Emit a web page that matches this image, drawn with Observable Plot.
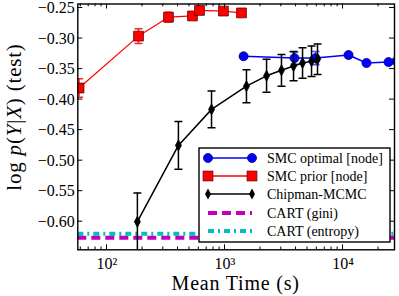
<!DOCTYPE html>
<html><head><meta charset="utf-8">
<script src="https://cdn.jsdelivr.net/npm/d3@7"></script>
<script src="https://cdn.jsdelivr.net/npm/@observablehq/plot@0.6"></script>
<style>body{margin:0;background:#fff} svg text{font-family:"Liberation Serif","Times New Roman",serif !important;}</style>
</head><body><div id="chart"></div>
<script>
// SMC optimal [node]
const optTime = [1437, 3880, 5850, 11140, 15800, 24300, 28400];
const optVal  = [-0.329, -0.332, -0.332, -0.327, -0.340, -0.3385, -0.337];
const optErr  = [0.003, 0.010, 0.011, 0.003, 0.003, 0.003, 0.003];
// SMC prior [node]
const priorTime = [58, 185, 332, 530, 608, 970, 1380];
const priorVal  = [-0.381, -0.296, -0.265, -0.263, -0.254, -0.255, -0.258];
const priorErr  = [0.015, 0.012, 0.008, 0.006, 0.004, 0.004, 0.003];
// Chipman-MCMC
const mcmcTime = [181, 403, 769, 1520, 2250, 3010, 3810, 4540, 5410, 6080];
const mcmcVal  = [-0.600, -0.475, -0.416, -0.378, -0.361, -0.352, -0.345, -0.340, -0.337, -0.334];
const mcmcErr  = [0.047, 0.039, 0.030, 0.027, 0.027, 0.026, 0.024, 0.025, 0.025, 0.025];
// CART baselines
const cartGini = -0.6263;
const cartEntropy = -0.6197;

const yTicks = [-0.60, -0.55, -0.50, -0.45, -0.40, -0.35, -0.30, -0.25];
const xTicks = [100, 1000, 10000];
const xTickLabels = ["10²", "10³", "10⁴"];

const FONT = "Liberation Serif, serif";
const mk = (t, v, e) => t.map((x, i) => ({x, y: v[i], lo: v[i] - e[i], hi: v[i] + e[i]}));
const opt = mk(optTime, optVal, optErr);
const prior = mk(priorTime, priorVal, priorErr);
const mcmc = mk(mcmcTime, mcmcVal, mcmcErr);

const capSym = {draw(c, s){ const r = Math.sqrt(s/Math.PI); c.moveTo(-r,0); c.lineTo(r,0);} };
const sqSym = {draw(c, s){ const r = Math.sqrt(s/Math.PI); c.rect(-r,-r,2*r,2*r);} };
const dmSym = {draw(c, s){ const r = Math.sqrt(s/Math.PI); c.moveTo(0,-r); c.lineTo(0.55*r,0); c.lineTo(0,r); c.lineTo(-0.55*r,0); c.closePath();} };

const series = [
  {d: opt, color: "#0000ff", ecolor: "#4d4dff", sym: "circle", r: 4.5, fill: "#0000ff", edge: "#00007a", lw: 1.5},
  {d: prior, color: "#ff0000", ecolor: "#ff2020", sym: sqSym, r: 4.9, fill: "#ff0000", edge: "#660000", lw: 1.2},
  {d: mcmc, color: "#000000", ecolor: "#000000", sym: dmSym, r: 5.5, fill: "#000000", edge: "#000000", lw: 1.5}
];

const marks = [
  Plot.ruleY([cartEntropy], {stroke: "#00bfbf", strokeWidth: 4, strokeDasharray: "6,4,2,4", clip: true}),
  Plot.ruleY([cartGini], {stroke: "#bf00bf", strokeWidth: 4, strokeDasharray: "9,5", clip: true})
];
for (const s of series) {
  marks.push(Plot.line(s.d, {x: "x", y: "y", stroke: s.color, strokeWidth: s.lw, clip: true}));
  marks.push(Plot.ruleX(s.d, {x: "x", y1: "lo", y2: "hi", stroke: s.ecolor, strokeWidth: 1.5, clip: true}));
  marks.push(Plot.dot(s.d, {x: "x", y: "hi", symbol: capSym, r: 4, stroke: s.ecolor, strokeWidth: 1.5, clip: true}));
  marks.push(Plot.dot(s.d, {x: "x", y: "lo", symbol: capSym, r: 4, stroke: s.ecolor, strokeWidth: 1.5, clip: true}));
  marks.push(Plot.dot(s.d, {x: "x", y: "y", symbol: s.sym, r: s.r, fill: s.fill, stroke: s.edge, strokeWidth: 0.8, clip: true}));
}
marks.push(Plot.axisX(xTicks, {tickSize: 0, tickPadding: 8, tickFormat: d => xTickLabels[xTicks.indexOf(d)], fontSize: 16, fontFamily: FONT, label: null}));
marks.push(Plot.axisY(yTicks, {tickSize: 0, tickPadding: 3, tickFormat: d3.format(".2f"), fontSize: 16, fontFamily: FONT, label: null}));
marks.push(Plot.frame({stroke: "#000", strokeWidth: 1.4}));

const plot = Plot.plot({
  width: 399, height: 296,
  marginLeft: 77.3, marginRight: 5, marginTop: 3.5, marginBottom: 46.7,
  style: {fontFamily: FONT, color: "#000", background: "#fff"},
  x: {type: "log", domain: [56.6, 27300]},
  y: {domain: [-0.646, -0.2434]},
  marks
});
document.getElementById("chart").appendChild(plot);

const svg = d3.select(plot);
const xs = plot.scale("x"), ys = plot.scale("y");
const L = 77.3, R = 394, T = 3.5, B = 249.3;
const g = svg.append("g").attr("stroke", "#000").attr("stroke-width", 1);
for (let e = 1; e <= 4; e++) {
  for (let k = 1; k <= 9; k++) {
    const v = k * Math.pow(10, e);
    const px = xs.apply(v);
    if (px < L + 0.5 || px > R - 0.5) continue;
    const len = k === 1 ? 5 : 2.8;
    g.append("line").attr("x1", px).attr("x2", px).attr("y1", B).attr("y2", B - len);
    g.append("line").attr("x1", px).attr("x2", px).attr("y1", T).attr("y2", T + len);
  }
}
for (const v of yTicks) {
  const py = ys.apply(v);
  g.append("line").attr("x1", L).attr("x2", L + 5).attr("y1", py).attr("y2", py);
  g.append("line").attr("x1", R).attr("x2", R - 5).attr("y1", py).attr("y2", py);
}

svg.append("text").attr("x", (L + R) / 2).attr("y", 290).attr("text-anchor", "middle")
  .style("font-size", "20px").attr("letter-spacing", "0.8px").attr("fill", "#000")
  .text("Mean Time (s)");
const yl = svg.append("text").attr("transform", "translate(21,117) rotate(-90)").attr("text-anchor", "middle")
  .style("font-size", "21px").attr("letter-spacing", "0.8px").attr("fill", "#000");
yl.append("tspan").text("log ");
yl.append("tspan").attr("font-style", "italic").text("p");
yl.append("tspan").text("(");
yl.append("tspan").attr("font-style", "italic").text("Y");
yl.append("tspan").text("|");
yl.append("tspan").attr("font-style", "italic").text("X");
yl.append("tspan").text(") (test)");

const lg = svg.append("g");
lg.append("rect").attr("x", 199).attr("y", 148).attr("width", 191).attr("height", 94)
  .attr("fill", "#fff").attr("stroke", "#000").attr("stroke-width", 1.4);
const entries = [
  {label: "SMC optimal [node]", color: "#0000ff", marker: "circle", fill: "#0000ff", edge: "#00007a"},
  {label: "SMC prior [node]", color: "#ff0000", marker: "square", fill: "#ff0000", edge: "#660000"},
  {label: "Chipman-MCMC", color: "#000", marker: "diamond", fill: "#000", edge: "#000"},
  {label: "CART (gini)", color: "#bf00bf", dash: "9,5"},
  {label: "CART (entropy)", color: "#00bfbf", dash: "6,4,2,4"}
];
const ey = [158, 176, 194, 213, 231];
entries.forEach((en, i) => {
  const y = ey[i];
  if (en.dash) {
    lg.append("line").attr("x1", 208).attr("x2", 252).attr("y1", y).attr("y2", y)
      .attr("stroke", en.color).attr("stroke-width", 4).attr("stroke-dasharray", en.dash);
  } else {
    lg.append("line").attr("x1", 208).attr("x2", 252).attr("y1", y).attr("y2", y)
      .attr("stroke", en.color).attr("stroke-width", 1.3);
    for (const x of [208, 252]) {
      if (en.marker === "circle") lg.append("circle").attr("cx", x).attr("cy", y).attr("r", 4.5).attr("fill", en.fill).attr("stroke", en.edge).attr("stroke-width", 0.8);
      else if (en.marker === "square") lg.append("rect").attr("x", x - 4.9).attr("y", y - 4.9).attr("width", 9.8).attr("height", 9.8).attr("fill", en.fill).attr("stroke", en.edge).attr("stroke-width", 0.8);
      else lg.append("path").attr("d", `M${x},${y-5.5}L${x+3},${y}L${x},${y+5.5}L${x-3},${y}Z`).attr("fill", "#000");
    }
  }
  lg.append("text").attr("x", 267).attr("y", y).attr("dy", "0.35em").attr("text-anchor", "start")
    .style("font-size", "14px").attr("fill", "#000").text(en.label);
});
</script>
</body></html>
